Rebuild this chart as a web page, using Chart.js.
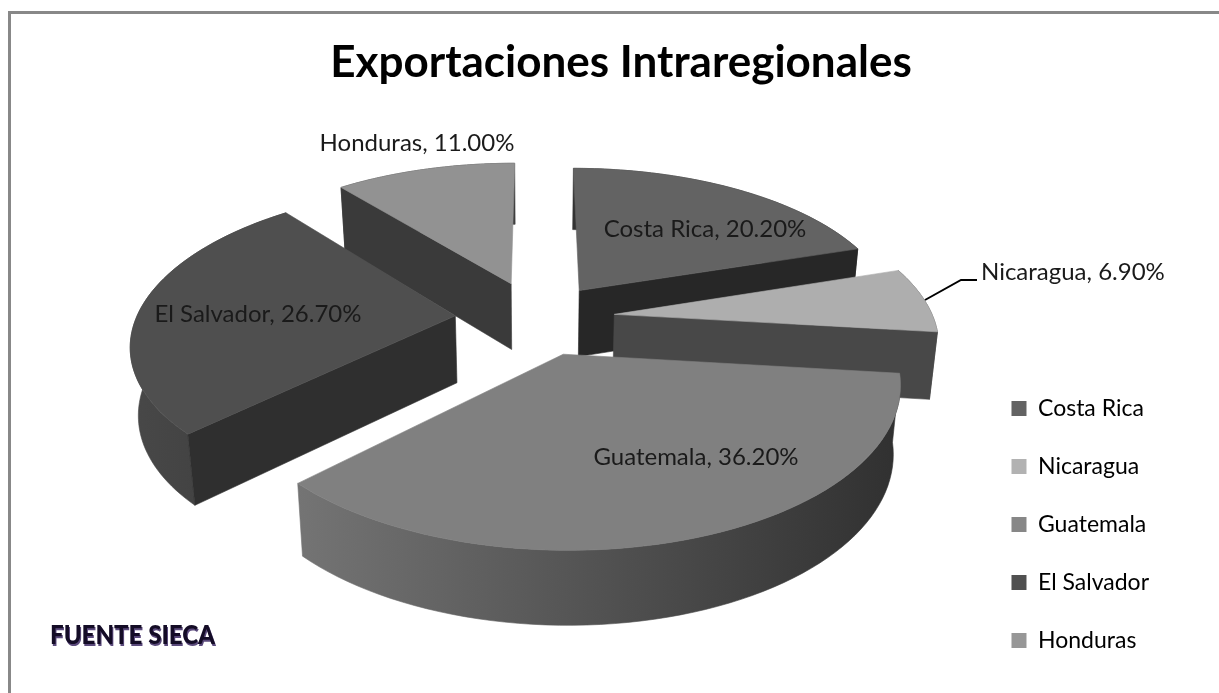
<!DOCTYPE html>
<html><head><meta charset="utf-8">
<style>
html,body{margin:0;padding:0;background:#fff;overflow:hidden;width:1219px;height:693px}
#frame{position:absolute;left:8px;top:11px;width:1300px;height:800px;border-left:3px solid #888;border-top:3px solid #888}
#wrap{position:absolute;left:11px;top:14px;width:1220px;height:679px}
</style>
<script src="https://cdn.jsdelivr.net/npm/chart.js@4"></script>
</head><body>
<div id="frame"></div>
<div id="wrap"><canvas id="c" width="1220" height="679"></canvas></div>
<script>
const categories=['Costa Rica','Nicaragua','Guatemala','El Salvador','Honduras'];
const values=[20.2,6.9,36.2,26.7,11.0];
const explode=[74,78,78,82,80];
const topColors=['#636363','#aeaeae','#808080','#4f4f4f','#929292'];
const legendColors=['#636363','#b2b2b2','#878787','#505050','#979797'];
const cutColors=['#272727','#484848','#5a5a5a','#2f2f2f','#3a3a3a'];
const wallLeft=['#333333','#4a4a4a','#747474','#484848','#3e3e3e'];
const wallRight=['#2a2a2a','#4a4a4a','#303030','#3c3c3c','#3e3e3e'];
const paintOrder=[4,0,3,1,2];
const labelAnchors=[[694,215,'center'],[970,258,'left'],[685,443,'center'],[247,300,'center'],[406,129,'center']];
const cam={cx:526,cy:304,squash:0.472,p:0.164,depth:67,shrink:0.02,steps:64};

function project(R,X,Y,z){
  const k=1/(1+cam.p*Y);
  return [cam.cx+R*X*k*(1-cam.shrink*z), cam.cy-R*cam.squash*Y*k+cam.depth*Math.sqrt(k)*z];
}
function fillPoly(ctx,pts,fill){
  ctx.beginPath();pts.forEach((p,i)=>i?ctx.lineTo(p[0],p[1]):ctx.moveTo(p[0],p[1]));
  ctx.closePath();ctx.fillStyle=fill;ctx.strokeStyle=fill;ctx.lineWidth=0.6;ctx.fill();ctx.stroke();
}
function drawSlice(ctx,el,i){
  const R=el.outerRadius,a0=el.startAngle,a1=el.endAngle,mid=(a0+a1)/2;
  const e=(el.options.offset||0)/R,ox=e*Math.cos(mid),oy=-e*Math.sin(mid);
  const arc=[];
  for(let s=0;s<=cam.steps;s++){const a=a0+(a1-a0)*s/cam.steps;arc.push([ox+Math.cos(a),oy-Math.sin(a)]);}
  const top=[project(R,ox,oy,0),...arc.map(q=>project(R,q[0],q[1],0))];
  const wall=[...arc.map(q=>project(R,q[0],q[1],0)),...arc.slice().reverse().map(q=>project(R,q[0],q[1],1))];
  const xs=wall.map(p=>p[0]);
  const g=ctx.createLinearGradient(Math.min(...xs),0,Math.max(...xs),0);
  g.addColorStop(0,wallLeft[i]);g.addColorStop(1,wallRight[i]);
  const cut=q=>[project(R,ox,oy,0),project(R,q[0],q[1],0),project(R,q[0],q[1],1),project(R,ox,oy,1)];
  fillPoly(ctx,wall,g);
  if(Math.cos(a0)<0) fillPoly(ctx,cut(arc[0]),cutColors[i]);
  if(Math.cos(a1)>0) fillPoly(ctx,cut(arc[arc.length-1]),cutColors[i]);
  fillPoly(ctx,top,el.options.backgroundColor);
}
const tiltedPie={
  id:'tiltedPie',
  beforeDatasetDraw(chart,args){
    const ctx=chart.ctx,meta=args.meta;
    ctx.save();
    paintOrder.forEach(i=>drawSlice(ctx,meta.data[i],i));
    ctx.restore();
    return false;
  },
  afterDatasetsDraw(chart){
    const ctx=chart.ctx;
    ctx.save();
    ctx.font='400 24px Lato';ctx.textBaseline='middle';ctx.fillStyle='#1a1a1a';
    categories.forEach((c,i)=>{
      const a=labelAnchors[i];ctx.textAlign=a[2];
      ctx.fillText(c+', '+values[i].toFixed(2)+'%',a[0],a[1]);
    });
    ctx.strokeStyle='#000';ctx.lineWidth=2;ctx.beginPath();
    ctx.moveTo(914,286);ctx.lineTo(950,266);ctx.lineTo(966,266);ctx.stroke();
    ctx.font='900 26px Lato';ctx.textAlign='left';
    ctx.fillStyle='#5b4a7c';ctx.fillText('FUENTE SIECA',40,624,165);
    ctx.fillStyle='#140c26';ctx.fillText('FUENTE SIECA',39,622,165);
    ctx.restore();
  }
};
new Chart(document.getElementById('c'),{
  type:'pie',
  data:{labels:categories,datasets:[{data:values,backgroundColor:topColors,borderWidth:0,offset:explode,hoverOffset:0}]},
  plugins:[tiltedPie],
  options:{
    responsive:false,animation:false,radius:319,
    layout:{padding:{left:72,right:72,bottom:6}},
    plugins:{
      tooltip:{enabled:false},
      title:{display:true,text:'Exportaciones Intraregionales',color:'#000',font:{family:'Lato',size:44,weight:'700'},padding:{top:22,bottom:20}},
      legend:{position:'right',align:'end',labels:{
        boxWidth:15,boxHeight:15,padding:35,color:'#000',font:{family:'Lato',size:23},
        generateLabels(){return categories.map((c,i)=>({text:c,fillStyle:legendColors[i],strokeStyle:legendColors[i],lineWidth:0,fontColor:'#000',index:i}));}
      }}
    }
  }
});
</script>
</body></html>
